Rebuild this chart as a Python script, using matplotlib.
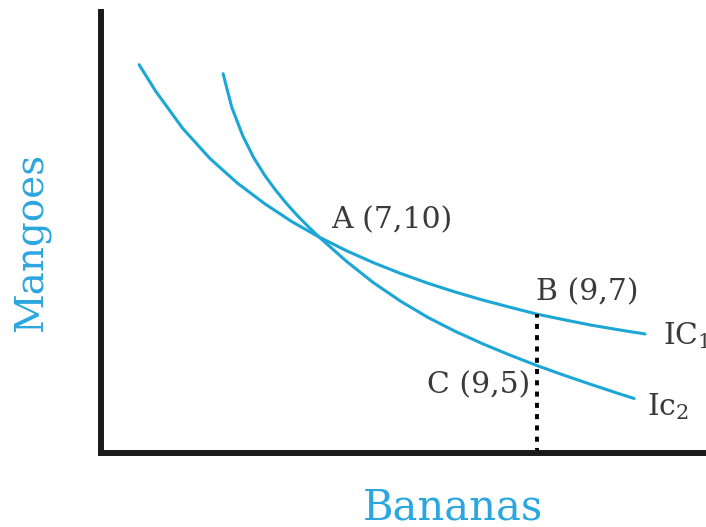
import numpy as np
import matplotlib.pyplot as plt

# indifference curves (bananas on x, mangoes on y)
ic1_x = [5.35, 5.5, 5.75, 6.0, 6.25, 6.5, 6.75, 7.0, 7.25, 7.5, 7.75, 8.0,
         8.25, 8.5, 8.75, 9.0, 9.25, 9.5, 9.75, 9.99]
ic1_y = [16.7, 15.68, 14.22, 13.05, 12.1, 11.3, 10.6, 10.0, 9.47, 9.0, 8.58, 8.2,
         7.86, 7.55, 7.27, 7.0, 6.78, 6.57, 6.39, 6.23]

ic2_x = [6.12, 6.2, 6.3, 6.4, 6.5, 6.6, 6.7, 6.8, 6.9, 7.0, 7.25, 7.5, 7.75,
         8.0, 8.25, 8.5, 8.75, 9.0, 9.25, 9.5, 9.75, 9.89]
ic2_y = [16.35, 15.04, 13.94, 13.09, 12.41, 11.83, 11.31, 10.84, 10.41, 10.0, 9.06, 8.22, 7.5,
         6.87, 6.33, 5.85, 5.41, 5.0, 4.62, 4.26, 3.91, 3.72]

# labelled bundles
pt_names = ["A", "B", "C"]
pt_x = [7, 9, 9]
pt_y = [10, 7, 5]

curve_col = "#1ca6d6"
label_col = "#2ba6de"
text_col = "#3a3a3a"

plt.rcParams["font.family"] = "DejaVu Serif"
plt.rcParams["mathtext.fontset"] = "dejavuserif"

fig = plt.figure(figsize=(7.06, 5.27), dpi=100)
ax = fig.add_axes([101 / 706, 74 / 527, 605 / 706, 441 / 527])
ax.set_xlim(5.0, 10.55)
ax.set_ylim(1.6, 18.75)

ax.plot(ic1_x, ic1_y, color=curve_col, lw=2.2, solid_capstyle="round")
ax.plot(ic2_x, ic2_y, color=curve_col, lw=2.2, solid_capstyle="round")

# dotted drop line from B to the bananas axis
ax.plot([pt_x[1], pt_x[1]], [ax.get_ylim()[0], pt_y[1]], color="black",
        lw=2.8, dashes=(1.3, 1.6), clip_on=False)

fs = 21.5
offsets = {"A": ((9, 12), "left"), "B": ((-1, 16), "left"), "C": ((-5, -14), "right")}
for n, x, y in zip(pt_names, pt_x, pt_y):
    off, ha = offsets[n]
    ax.annotate(f"{n} ({x},{y})", (x, y), xytext=off, textcoords="offset points",
                ha=ha, va="center", fontsize=fs, color=text_col)

# curve names; IC1 runs off the right edge
ax.annotate("IC$_1$", (ic1_x[-1], ic1_y[-1]), xytext=(13, -1), textcoords="offset points",
            ha="left", va="center", fontsize=fs, color=text_col, annotation_clip=False)
ax.annotate("Ic$_2$", (ic2_x[-1], ic2_y[-1]), xytext=(9, -6), textcoords="offset points",
            ha="left", va="center", fontsize=fs, color=text_col, annotation_clip=False)

for side in ["top", "right"]:
    ax.spines[side].set_visible(False)
for side in ["left", "bottom"]:
    ax.spines[side].set_linewidth(4.3)
    ax.spines[side].set_color("#1a1a1a")
ax.set_xticks([])
ax.set_yticks([])

fig.text(31 / 706, 1 - 242 / 527, "Mangoes", rotation=90, ha="center", va="center",
         fontsize=28, color=label_col)
fig.text(453 / 706, 1 - 507 / 527, "Bananas", ha="center", va="center",
         fontsize=30, color=label_col)

fig.savefig("out.png", dpi=100)
